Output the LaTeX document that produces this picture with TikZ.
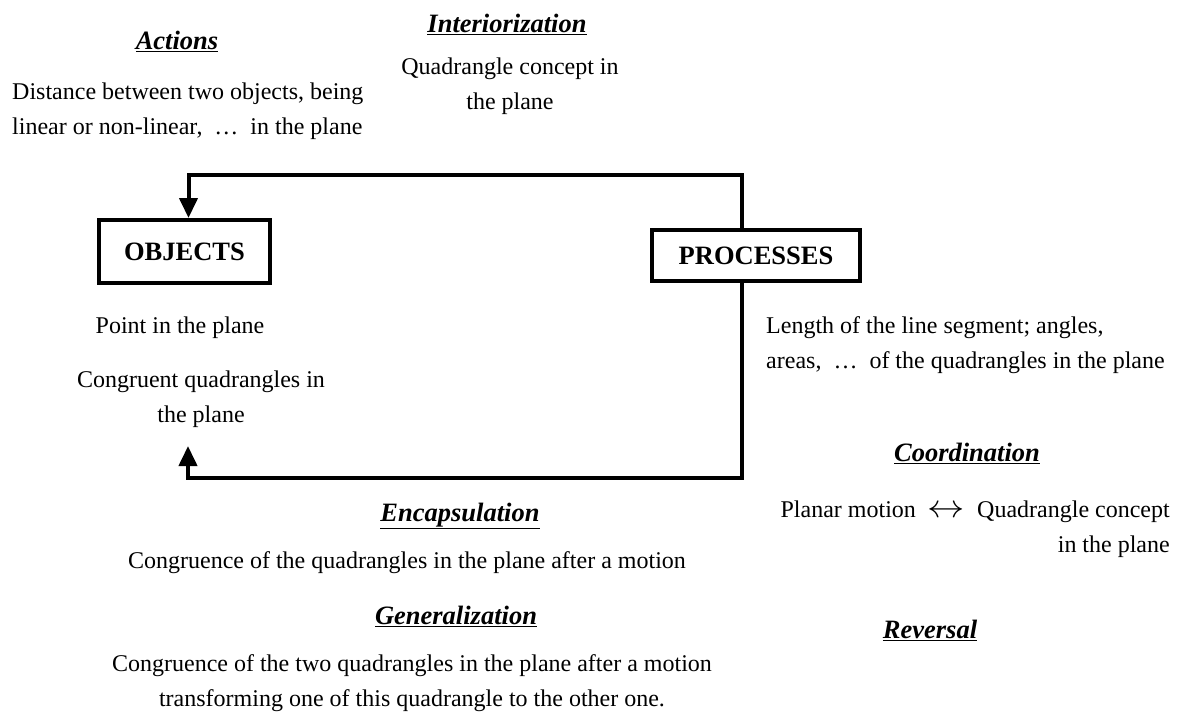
\documentclass[tikz,border=0pt]{standalone}
\usepackage{fontspec}
\setmainfont{Liberation Serif}
\usetikzlibrary{arrows.meta}
\newcommand{\stagename}[1]{\underline{\textbf{\textit{#1}}}}

\begin{document}
\begin{tikzpicture}[x=1pt, y=-1pt,
    every node/.style={font=\fontsize{24}{35}\selectfont, inner sep=0pt},
    stage/.style={font=\fontsize{26.5}{30}\selectfont},
    box/.style={draw, line width=4pt, font=\fontsize{26.5}{30}\selectfont\bfseries},
    flow/.style={line width=4pt, -{Triangle[width=18pt,length=20pt]}}]
  \useasboundingbox (0,0) rectangle (1180,713);
  % the two boxes
  \node[box, minimum width=171, minimum height=63] (obj) at (184.5,251.5) {OBJECTS};
  \node[box, minimum width=208, minimum height=51] (proc) at (756,255.5) {PROCESSES};
  \coordinate (back) at (188,446);
  \draw[flow] ([xshift=-14]proc.north) -- ++(0,-53) -| ([xshift=4]obj.north);
  \draw[flow] ([xshift=-14]proc.south) -- ++(0,195) -| (back);
  % actions and interiorization
  \node[stage] (act) at (177,41) {\stagename{Actions}};
  \node[anchor=west, align=left] (acttext) at (12,111) {Distance between two objects, being\\linear or non-linear,\ \ \dots\ \ in the plane};
  \node[stage] (inter) at (507,24) {\stagename{Interiorization}};
  \node[align=center] (intertext) at (510,86) {Quadrangle concept in\\the plane};
  % objects side
  \node (point) at (180,328) {Point in the plane};
  \node[align=center] (congr) at (201,399) {Congruent quadrangles in\\the plane};
  % processes side
  \node[anchor=west, align=left] (length) at (766,345) {Length of the line segment; angles,\\areas,\ \ \dots\ \ of the quadrangles in the plane};
  \node[stage] (coord) at (967,453) {\stagename{Coordination}};
  \node[anchor=east, align=right] (coordtext) at (1170,529) {Planar motion \ \scalebox{1.5}[1.3]{$\leftrightarrow$}\ \ Quadrangle concept\\in the plane};
  \node[stage] (rev) at (930,630) {\stagename{Reversal}};
  % encapsulation and generalization
  \node[stage] (enc) at (460,516) {\stagename{Encapsulation}};
  \node (enctext) at (407,563) {Congruence of the quadrangles in the plane after a motion};
  \node[stage] (gen) at (456,616) {\stagename{Generalization}};
  \node[align=center] (gentext) at (412,683) {Congruence of the two quadrangles in the plane after a motion\\transforming one of this quadrangle to the other one.};
\end{tikzpicture}
\end{document}
